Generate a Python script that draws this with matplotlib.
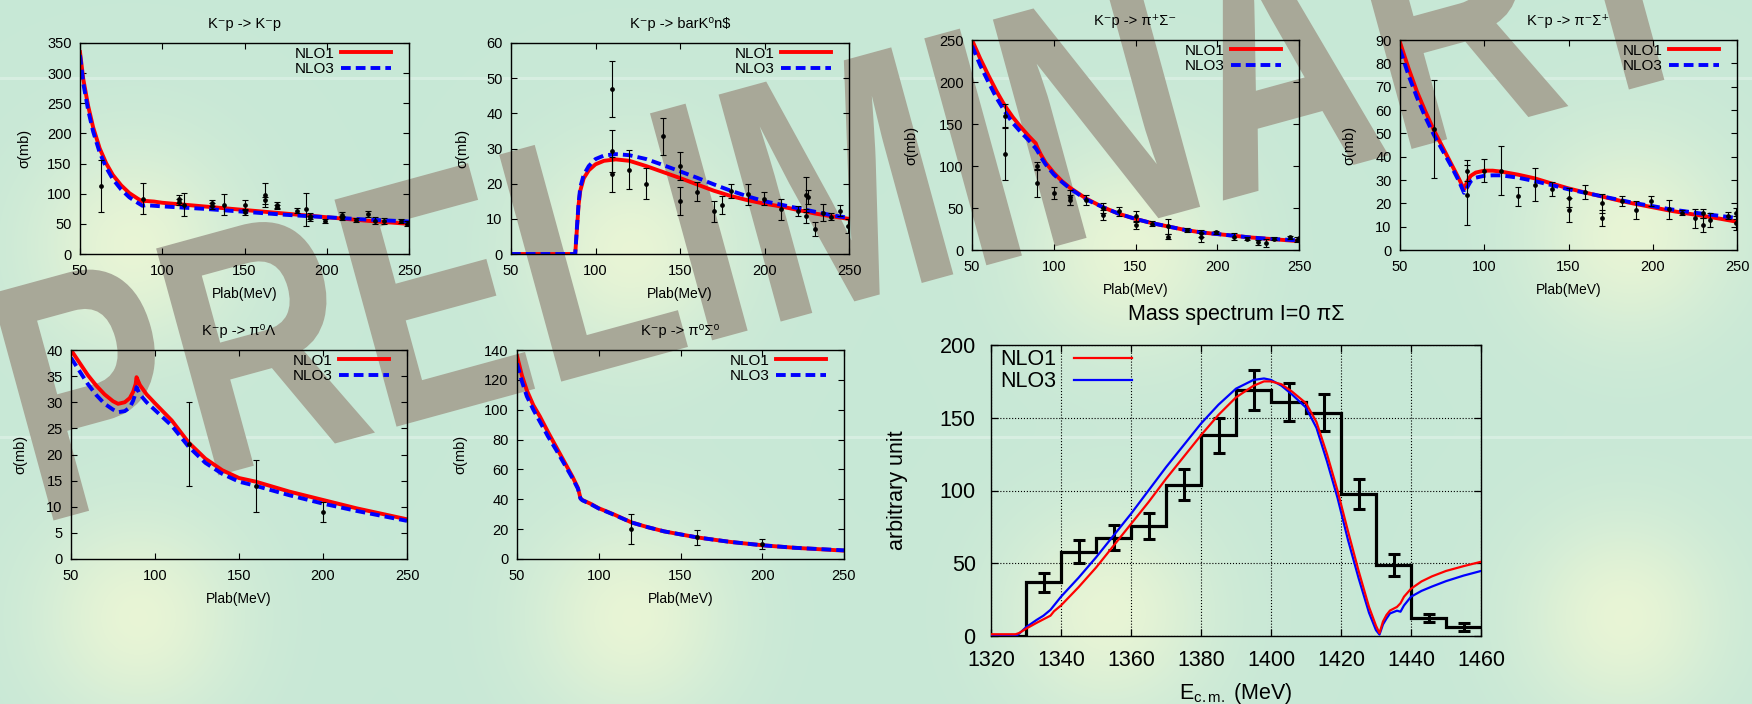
import numpy as np
import matplotlib
matplotlib.use('Agg')
import matplotlib.pyplot as plt
from matplotlib.textpath import TextPath
from matplotlib.patches import PathPatch
from matplotlib.font_manager import FontProperties
from matplotlib.transforms import Affine2D, IdentityTransform

plt.rcParams['font.family'] = ['Liberation Sans', 'DejaVu Sans']
plt.rcParams['mathtext.fontset'] = 'custom'
plt.rcParams['mathtext.rm'] = 'Liberation Sans'
plt.rcParams['mathtext.it'] = 'Liberation Sans:italic'
plt.rcParams['axes.linewidth'] = 1.0

# ---- K-p -> K-p
kp_x = [50, 52, 55, 58, 62, 66, 70, 75, 80, 85, 88, 90, 95, 100, 125, 150, 175, 200, 225, 250]
kp_nlo1 = [335, 290, 245, 210, 175, 150, 131, 114, 101, 92, 87, 88, 87, 85, 79, 73, 67, 61, 55, 50]
kp_nlo3 = [330, 283, 238, 203, 168, 143, 124, 107, 94, 85, 80, 81, 80, 79, 75, 70, 65, 61, 57, 54]
kp_dx = [63, 88, 110, 110, 113, 130.5, 130.5, 137.5, 150, 150, 162.5, 162.5, 169.5, 169.5, 182,
         187.5, 190, 190, 199, 209.5, 209.5, 218, 225, 229.5, 235, 245, 249, 250]
kp_dy = [113, 92, 91, 87, 82, 85, 80, 82, 81, 70, 98, 89, 82, 78, 72,
         74, 63, 59, 55, 65, 60, 56, 66, 55, 55, 55, 50, 52]
kp_de = [43, 25, 7, 5, 19, 5, 5, 17, 8, 5, 20, 6, 5, 4, 4,
         28, 5, 4, 3, 4, 3, 3, 5, 6, 5, 3, 4, 3]

# ---- K-p -> Kbar0 n
kn_x = [50, 88, 89, 90, 91, 93, 96, 100, 105, 112, 120, 130, 140, 150, 160, 170, 180, 190, 200,
        210, 220, 230, 240, 250]
kn_nlo1 = [0, 0, 7, 14, 18, 21.5, 23.8, 25.5, 26.5, 26.9, 26.5, 25, 23.3, 21.6, 19.8, 18, 16.5,
           15.3, 14.3, 13.5, 12.5, 11.5, 10.7, 10]
kn_nlo3 = [0, 0, 7.5, 14.5, 19, 22.5, 25, 27, 28, 28.4, 28.1, 27, 25.3, 23.5, 21.7, 19.8, 18,
           16.4, 15, 14, 13, 12, 11, 10.3]
kn_dx = [110, 110, 110, 120, 130, 140, 150, 150, 160, 170, 175, 180, 190.5, 199.8, 209.5, 219.7,
         224.8, 225.5, 224.5, 229.7, 234.6, 239.6, 244.5, 249.6]
kn_dy = [47, 29.3, 22.7, 24, 20, 33.5, 25, 15, 17.7, 12.1, 14, 18, 17, 15.7, 12.7, 12.3,
         16.9, 16.1, 10.8, 7.1, 11.8, 10.6, 12.3, 8]
kn_de = [8, 6, 5, 5.5, 4.5, 5.3, 4, 4, 2.7, 3, 2.6, 2, 3, 1.8, 3, 1.4,
         5, 2, 2, 2, 2.4, 1, 1.6, 2]

# ---- K-p -> pi+ Sigma-
pp_x = [50, 55, 60, 65, 70, 75, 80, 85, 89, 90, 92, 95, 100, 105, 110, 120, 130, 140, 150, 160,
        170, 180, 190, 200, 210, 220, 230, 240, 250]
pp_nlo1 = [250, 228, 208, 189, 172, 158, 146, 135, 127, 122, 114, 104, 92, 82, 74, 61, 51, 43,
           37, 32, 28, 24, 21, 19, 17, 15, 13.5, 12, 10.5]
pp_nlo3 = [243, 220, 200, 181, 165, 151, 140, 130, 121, 118, 111, 102, 90, 81, 73, 60, 51, 43,
           37, 32, 28, 24, 21, 19, 17, 15, 13.5, 12.5, 11.5]
pp_dx = [70, 70, 90, 90, 100, 110, 110, 120, 130, 130, 140, 150, 150, 160, 170, 170, 181.5, 190,
         190, 199.5, 210, 218, 225, 230, 234.5, 244.5, 249, 250]
pp_dy = [160, 114, 100, 80, 68, 63, 59, 60, 50, 42, 46, 40, 30, 31, 28, 16, 24, 15,
         20, 21, 16, 13.5, 9, 8, 13.5, 15, 12, 14]
pp_de = [14, 31, 5, 17, 7, 9, 6, 6, 6, 6, 5, 7, 5, 3, 9, 3, 2, 5,
         4, 2, 4, 2, 3, 5, 2, 2, 3, 2]

# ---- K-p -> pi- Sigma+
pm_x = [50, 55, 60, 65, 70, 75, 80, 85, 88, 90, 92, 95, 100, 105, 110, 120, 130, 140, 150, 160,
        170, 180, 190, 200, 210, 220, 230, 240, 250]
pm_nlo1 = [89, 78, 68, 59.5, 51.5, 44.5, 37.5, 30.5, 26, 29.5, 31.8, 33.2, 34, 34, 33.6, 32.3,
           30.7, 28.5, 26.4, 24.6, 22.9, 21.2, 19.7, 18.3, 16.9, 15.7, 14.6, 13.4, 12.1]
pm_nlo3 = [86, 75, 65.5, 57, 49.5, 43, 36.5, 29.5, 24.5, 27, 29.5, 31, 31.8, 32, 32, 31,
           29.5, 27.8, 26, 24.5, 23, 21.5, 20, 18.8, 17.5, 16.5, 15.5, 14.6, 13.7]
pm_dx = [70, 90, 90, 100, 110, 120, 130, 140, 150, 150, 160, 170, 170, 181.5, 190, 199, 209.5,
         217.5, 225, 230, 230, 234, 244.5, 249.5, 249.5]
pm_dy = [52, 34, 23.6, 34, 34, 23, 28, 26, 22.4, 17.1, 24.7, 20, 13.6, 21, 17.1, 21, 17.4,
         16, 13.6, 15.7, 10.7, 12.9, 14.6, 15.7, 11.4]
pm_de = [21, 4.5, 13, 5, 10.5, 4, 7, 3, 4, 5, 3, 4, 3.5, 2, 4, 2, 4,
         1, 4, 2, 3, 3, 1.5, 2.5, 3]

# ---- K-p -> pi0 Lambda
pl_x = [50, 55, 60, 65, 70, 75, 78, 82, 85, 87, 88.5, 89, 91, 95, 100, 110, 120, 130, 140, 150,
        160, 180, 200, 220, 250]
pl_nlo1 = [40, 37.6, 35.2, 33.2, 31.5, 30.2, 29.7, 30, 30.8, 32, 33.5, 34.8, 33.3, 31.5, 29.8,
           26.5, 22.3, 19.2, 17, 15.5, 14.8, 12.9, 11.3, 9.7, 7.6]
pl_nlo3 = [38.5, 36, 33.5, 31.4, 29.7, 28.6, 28.1, 28.3, 29, 30.3, 31.8, 32.9, 31.5, 30, 28.5,
           25.5, 21.5, 18.4, 16.3, 14.8, 14, 12.2, 10.6, 9.2, 7.3]
pl_dx = [120, 160, 200]
pl_dy = [22, 14, 9]
pl_de = [8, 5, 2]

# ---- K-p -> pi0 Sigma0
pz_x = [50, 53, 56, 60, 64, 69, 74, 79, 84, 87.3, 88.8, 90, 95, 100, 105, 110, 120, 130, 140,
        160, 180, 200, 220, 250]
pz_nlo1 = [136, 123, 113, 103, 95.5, 85, 75, 65, 55, 47.5, 40.8, 39.5, 37, 34, 31.8, 29.5,
           24.5, 21.3, 18.5, 14.5, 11.5, 9.2, 7.5, 5.6]
pz_nlo3 = [131, 119, 109, 100, 92, 82, 73, 63.5, 54, 47, 40.5, 39.3, 36.8, 33.8, 31.6, 29.3,
           24.5, 21.3, 18.5, 14.5, 11.5, 9.2, 7.5, 5.8]
pz_dx = [120, 160, 200]
pz_dy = [20, 14.7, 10]
pz_de = [10, 5, 3.3]

# ---- mass spectrum I=0 pi Sigma
hist_edges = [1320, 1330, 1340, 1350, 1360, 1370, 1380, 1390, 1400, 1410, 1420, 1430, 1440,
              1450, 1460]
hist_counts = [0, 37, 58, 67.6, 75.5, 104, 138, 169, 161, 153.5, 97.6, 48.8, 12.1, 6.4]
hist_cx = [1335, 1345, 1355, 1365, 1375, 1385, 1395, 1405, 1415, 1425, 1435, 1445, 1455]
hist_err = [6.5, 8, 8.5, 9, 10.5, 12, 13.5, 13, 12.5, 10.5, 7.5, 2.8, 2.8]
ecm = [1320, 1327, 1328, 1330, 1333, 1335, 1337, 1338, 1340, 1345, 1350, 1355, 1360, 1365, 1370,
       1375, 1380, 1385, 1390, 1395, 1398, 1400, 1403, 1406, 1410, 1413, 1416, 1419, 1422, 1425,
       1428, 1430, 1431, 1432, 1433, 1434, 1436, 1437, 1438, 1440, 1443, 1446, 1450, 1455, 1460]
ms_nlo1 = [1.2, 1.2, 2, 5, 9, 11.5, 14, 17, 21, 33.5, 47, 62, 77, 92, 108,
           123, 138, 152, 164, 172, 175, 175, 173, 168, 160, 147, 125, 100, 72, 45,
           20, 7, 2, 10, 14.5, 17.5, 20, 22.5, 27, 32.5, 37.5, 41, 44.7, 48, 51]
ms_nlo3 = [0, 0, 1.5, 6, 11, 14, 18, 21, 27, 40, 54, 69, 84, 100, 116,
           131, 146, 159, 170, 176, 177, 176, 172, 166, 157, 143, 120, 95, 66, 40,
           16, 4, 1, 8, 12, 15.5, 17.4, 16.7, 21, 27, 31, 34, 37.7, 41.5, 44.7]

W, H = 1752, 704
fig = plt.figure(figsize=(W / 100, H / 100), dpi=100)

# background: mint green with soft yellow glows
bg = np.ones((H, W, 3)) * np.array([0.784, 0.910, 0.843])
glow = np.array([0.925, 0.965, 0.835])
yy, xx = np.mgrid[0:H, 0:W]
for gx, gy in [(133, 245), (630, 250), (1130, 250), (1630, 235),
               (138, 617), (631, 617), (1108, 613), (1623, 617)]:
    wgt = 0.9 * np.exp(-((xx - gx) ** 2 + (yy - gy) ** 2) / (2 * 70.0 ** 2))
    bg = bg * (1 - wgt[..., None]) + glow * wgt[..., None]
for sy in (78, 437):
    bg[sy - 1:sy + 2] = 0.6 * bg[sy - 1:sy + 2] + 0.4 * np.array([0.93, 0.97, 0.95])
fig.figimage(bg, xo=0, yo=0, zorder=-10, origin='upper')

# watermark: condensed bold letters, drawn in pixel space behind the panels
wm = TextPath((0, 0), 'PRELIMINARY', size=1,
              prop=FontProperties(family='Liberation Sans', weight='bold'))
wm_tr = Affine2D().scale(256, 342).rotate_deg(15.3).translate(37, H - 525)
fig.add_artist(PathPatch(wm_tr.transform_path(wm), transform=IdentityTransform(),
                         facecolor='#a8a898', edgecolor='none', zorder=-5))


def px_axes(x0, y0, x1, y1):
    ax = fig.add_axes([x0 / W, 1 - y1 / H, (x1 - x0) / W, (y1 - y0) / H])
    ax.set_facecolor('none')
    return ax


def small_panel(box, title, x, nlo1, nlo3, dx, dy, de, ymax, ystep, ylab_dx):
    ax = px_axes(*box)
    wpx, hpx = box[2] - box[0], box[3] - box[1]
    ax.plot(x, nlo1, color='red', lw=2.8, label='NLO1', solid_joinstyle='round')
    ax.plot(x, nlo3, color='blue', lw=2.8, ls=(0, (2.5, 1.3)), label='NLO3')
    ax.errorbar(dx, dy, yerr=de, fmt='o', ms=2.4, color='black', ecolor='black',
                elinewidth=0.8, capsize=2.5, capthick=0.8, zorder=4)
    ax.set_xlim(50, 250)
    ax.set_ylim(0, ymax)
    ax.set_xticks([50, 100, 150, 200, 250])
    ax.set_yticks(np.arange(0, ymax + 1, ystep))
    ax.tick_params(direction='in', top=True, right=True, length=4, width=0.8,
                   labelsize=10.5)
    ax.tick_params(axis='x', pad=7)
    ax.tick_params(axis='y', pad=6)
    ax.set_title(title, fontsize=10.5, pad=11)
    ax.set_xlabel('Plab(MeV)', fontsize=10)
    ax.set_ylabel('σ(mb)', fontsize=10.5)
    ax.xaxis.set_label_coords(0.5, -33 / hpx)
    ax.yaxis.set_label_coords(ylab_dx / wpx, 0.5)
    ax.legend(loc='upper right', bbox_to_anchor=(1 - 14 / wpx, 1), frameon=False,
              markerfirst=False, fontsize=11, handlelength=3.3, handletextpad=0.4,
              labelspacing=0.1, borderaxespad=0.15, borderpad=0.1)
    return ax


small_panel((80, 43, 409, 254), 'K⁻p -> K⁻p', kp_x, kp_nlo1, kp_nlo3,
            kp_dx, kp_dy, kp_de, 350, 50, -49)
small_panel((511, 43, 849, 254), 'K⁻p -> barK⁰n$', kn_x, kn_nlo1, kn_nlo3,
            kn_dx, kn_dy, kn_de, 60, 10, -42)
small_panel((972, 40, 1299, 250), 'K⁻p -> π⁺Σ⁻', pp_x, pp_nlo1, pp_nlo3,
            pp_dx, pp_dy, pp_de, 250, 50, -54)
small_panel((1400, 40, 1737, 250), 'K⁻p -> π⁻Σ⁺', pm_x, pm_nlo1, pm_nlo3,
            pm_dx, pm_dy, pm_de, 90, 10, -44)
small_panel((71, 350, 407, 559), 'K⁻p -> π⁰Λ', pl_x, pl_nlo1, pl_nlo3,
            pl_dx, pl_dy, pl_de, 40, 5, -44)
small_panel((517, 350, 844, 559), 'K⁻p -> π⁰Σ⁰', pz_x, pz_nlo1, pz_nlo3,
            pz_dx, pz_dy, pz_de, 140, 20, -50)

# big mass spectrum panel
box = (991, 345, 1481, 636)
ax = px_axes(*box)
wpx, hpx = box[2] - box[0], box[3] - box[1]
ax.grid(True, ls=':', color='black', lw=0.8)
ax.stairs(hist_counts, hist_edges, color='black', lw=2.3, baseline=None, zorder=3)
ax.errorbar(hist_cx, hist_counts[1:], yerr=hist_err, fmt='none', ecolor='black',
            elinewidth=2.2, capsize=4, capthick=2.2, zorder=3)
l3, = ax.plot(ecm, ms_nlo3, color='blue', lw=1.6, zorder=4)
l1, = ax.plot(ecm, ms_nlo1, color='red', lw=1.6, zorder=4)
ax.set_xlim(1320, 1460)
ax.set_ylim(0, 200)
ax.set_xticks([1320, 1340, 1360, 1380, 1400, 1420, 1440, 1460])
ax.set_yticks([0, 50, 100, 150, 200])
ax.set_axisbelow(True)
ax.tick_params(direction='in', top=True, right=True, length=5, width=0.9, labelsize=15.5)
ax.tick_params(axis='x', pad=10)
ax.tick_params(axis='y', pad=11)
ax.set_title('Mass spectrum I=0 πΣ', fontsize=15.5, pad=18)
ax.set_xlabel(r'E$_{\mathrm{c.m.}}$ (MeV)', fontsize=15.5)
ax.set_ylabel('arbitrary unit', fontsize=15.5)
ax.xaxis.set_label_coords(0.5, -45 / hpx)
ax.yaxis.set_label_coords(-83 / wpx, 0.5)
ax.legend([l1, l3], ['NLO1', 'NLO3'], loc='upper left', bbox_to_anchor=(5 / wpx, 1),
          frameon=False, markerfirst=False, fontsize=15.5, handlelength=2.7,
          handletextpad=0.8, labelspacing=0.05, borderaxespad=0.1, borderpad=0.1)

fig.savefig('out.png', dpi=100)
